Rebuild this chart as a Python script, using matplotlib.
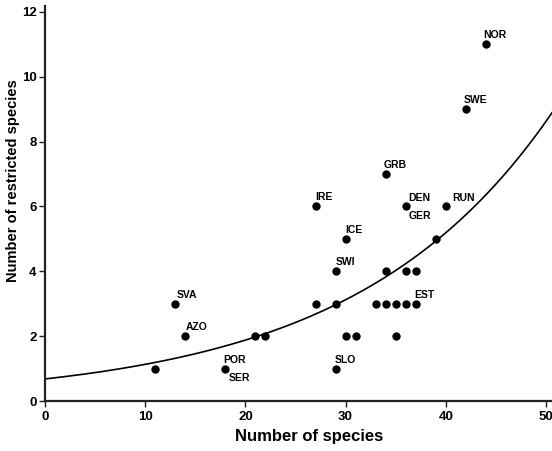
import numpy as np
import matplotlib
matplotlib.use('Agg')
import matplotlib.pyplot as plt

plt.rcParams['font.family'] = ['Liberation Sans', 'DejaVu Sans']

# Points: number of species vs number of restricted species
species = [11, 13, 14, 18, 21, 22, 27, 27, 29, 29, 29, 30, 30, 31,
           33, 34, 35, 36, 37, 34, 36, 37, 35, 34, 36, 40, 39, 42, 44]
restricted = [1, 3, 2, 1, 2, 2, 6, 3, 4, 3, 1, 5, 2, 2,
              3, 3, 3, 3, 3, 4, 4, 4, 2, 7, 6, 6, 5, 9, 11]

# Country labels: (name, x, y, offset in pixels)
labels = ['NOR', 'SWE', 'GRB', 'IRE', 'DEN', 'GER', 'RUN', 'ICE', 'SWI',
          'EST', 'SLO', 'SVA', 'AZO', 'POR', 'SER']
label_x = [44, 42, 34, 27, 36, 36, 40, 30, 29, 37, 29, 13, 14, 18, 18]
label_y = [11, 9, 7, 6, 6, 6, 6, 5, 4, 3, 1, 3, 2, 1, 1]
label_dx = [-3, -2, -2, 0, 3, 3, 6, 0, 0, -1, -1, 1, 0, -2, 3]
label_dy = [6, 6, 6, 6, 5, -12.5, 5, 6, 6, 6, 6, 6, 6, 6, -12.5]

# exponential fit y = a * exp(b * x)
fit_a = 0.68
fit_b = 0.0508

fig = plt.figure(figsize=(5.52, 4.51), dpi=100)
ax = fig.add_axes([45 / 552, 50 / 451, 507 / 552, 395 / 451])

xs = np.linspace(0, 50.6, 200)
ax.plot(xs, fit_a * np.exp(fit_b * xs), color='black', lw=1.2, zorder=2)
ax.plot(species, restricted, 'o', color='black', markersize=5, zorder=3)

for name, x, y, dx, dy in zip(labels, label_x, label_y, label_dx, label_dy):
    ax.annotate(name, (x, y), xytext=(dx, dy), textcoords='offset pixels',
                ha='left', va='baseline', fontsize=7.5, fontweight='bold')

ax.set_xlim(0, 50.6)
ax.set_ylim(0, 12.18)
ax.set_xticks([0, 10, 20, 30, 40, 50])
ax.set_yticks([0, 2, 4, 6, 8, 10, 12])

for side in ['top', 'right']:
    ax.spines[side].set_visible(False)
for side in ['left', 'bottom']:
    ax.spines[side].set_linewidth(1.6)
    ax.spines[side].set_color('#222222')

ax.tick_params(axis='both', direction='out', length=4.5, width=1, color='#222222',
               labelsize=9.5)
ax.tick_params(axis='y', pad=1.5)
ax.tick_params(axis='x', pad=3)
for t in ax.get_xticklabels() + ax.get_yticklabels():
    t.set_fontweight('bold')

ax.set_xlabel('Number of species', fontsize=12, fontweight='bold')
ax.set_ylabel('Number of restricted species', fontsize=10.5, fontweight='bold')
ax.xaxis.set_label_coords((309 - 45) / 507, -28 / 395, transform=ax.transAxes)
ax.yaxis.set_label_coords(-25 / 507, 0.557, transform=ax.transAxes)

fig.savefig('out.png', dpi=100)
